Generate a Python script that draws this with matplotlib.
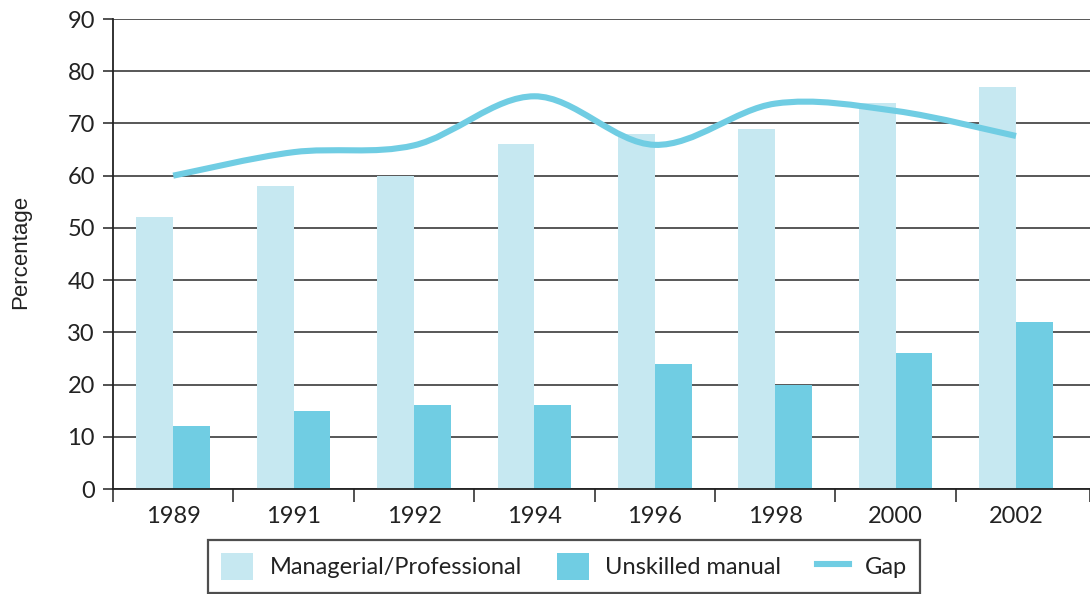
import matplotlib
matplotlib.use("Agg")
import matplotlib.pyplot as plt
import numpy as np
from matplotlib.path import Path
from matplotlib.patches import PathPatch, Patch
from matplotlib.lines import Line2D

years = ["1989", "1991", "1992", "1994", "1996", "1998", "2000", "2002"]
managerial = [52, 58, 60, 66, 68, 69, 74, 77]
unskilled = [12, 15, 16, 16, 24, 20, 26, 32]
gap = [60, 64.5, 65.8, 75.2, 65.9, 73.8, 72.4, 67.6]
yticks = [0, 10, 20, 30, 40, 50, 60, 70, 80, 90]

light = "#C6E8F1"
dark = "#70CDE3"

plt.rcParams['font.family'] = ['Lato', 'DejaVu Sans']

W, H = 1090, 594
fig = plt.figure(figsize=(W / 100, H / 100), dpi=100)
left_px, right_px, top_px, bot_px = 113, 1090, 19, 489
ax = fig.add_axes([left_px / W, 1 - bot_px / H, (right_px - left_px) / W, (bot_px - top_px) / H])

n = len(years)
cat_w_px = 120.4
xmax = (right_px - left_px) / cat_w_px
x = np.arange(n) + 0.5
bw = 0.305

ax.bar(x - bw / 2, managerial, bw, color=light, zorder=2, linewidth=0)
ax.bar(x + bw / 2, unskilled, bw, color=dark, zorder=2, linewidth=0)

# smooth line (Catmull-Rom style Bezier, like a spreadsheet "smoothed line")
pts = np.column_stack([x, np.array(gap, dtype=float)])
verts = [tuple(pts[0])]
codes = [Path.MOVETO]
for i in range(n - 1):
    p0 = pts[i - 1] if i > 0 else pts[i]
    p1 = pts[i]
    p2 = pts[i + 1]
    p3 = pts[i + 2] if i + 2 < n else pts[i + 1]
    c1 = p1 + (p2 - p0) / 6.0
    c2 = p2 - (p3 - p1) / 6.0
    verts += [tuple(c1), tuple(c2), tuple(p2)]
    codes += [Path.CURVE4, Path.CURVE4, Path.CURVE4]
ax.add_patch(PathPatch(Path(verts, codes), facecolor='none', edgecolor=dark,
                       linewidth=4.4, zorder=3, capstyle='butt'))

ax.set_xlim(0, xmax)
ax.set_ylim(0, 90)
ax.set_yticks(yticks)
ax.set_yticklabels([str(t) for t in yticks])
ax.yaxis.grid(True, color='#2a2a2a', linewidth=1.1, zorder=1)
ax.set_axisbelow(True)

ax.set_xticks(x)
ax.set_xticklabels(years)
ax.set_xticks(list(np.arange(n)) + [xmax], minor=True)
ax.tick_params(axis='x', which='major', length=0, pad=12, labelsize=17, colors='#222222')
ax.tick_params(axis='x', which='minor', length=9, width=1.1, color='#222222')
ax.tick_params(axis='y', length=7, width=1.1, pad=6, labelsize=17, colors='#222222')

for s in ['top', 'right']:
    ax.spines[s].set_visible(False)
ax.spines['left'].set_color('#222222')
ax.spines['left'].set_linewidth(1.3)
ax.spines['bottom'].set_color('#222222')
ax.spines['bottom'].set_linewidth(1.3)

fig.text(21 / W, 1 - 252 / H, "Percentage", rotation=90, ha='center', va='center',
         fontsize=16, family=['Liberation Sans', 'DejaVu Sans'], color='#222222')

handles = [Patch(facecolor=light, edgecolor='none'),
           Patch(facecolor=dark, edgecolor='none'),
           Line2D([0], [0], color=dark, linewidth=4.4)]
labels = ["Managerial/Professional", "Unskilled manual", "Gap"]
leg = fig.legend(handles, labels, loc='upper left', bbox_to_anchor=(208 / W, 1 - 540 / H),
                 ncol=3, frameon=True, fancybox=False, fontsize=17,
                 handlelength=1.35, handleheight=1.4, handletextpad=0.7,
                 columnspacing=1.5, borderpad=0.55, borderaxespad=0)
leg.get_frame().set_edgecolor('#222222')
leg.get_frame().set_linewidth(1.6)
for t in leg.get_texts():
    t.set_color('#222222')

fig.savefig("out.png", dpi=100)
